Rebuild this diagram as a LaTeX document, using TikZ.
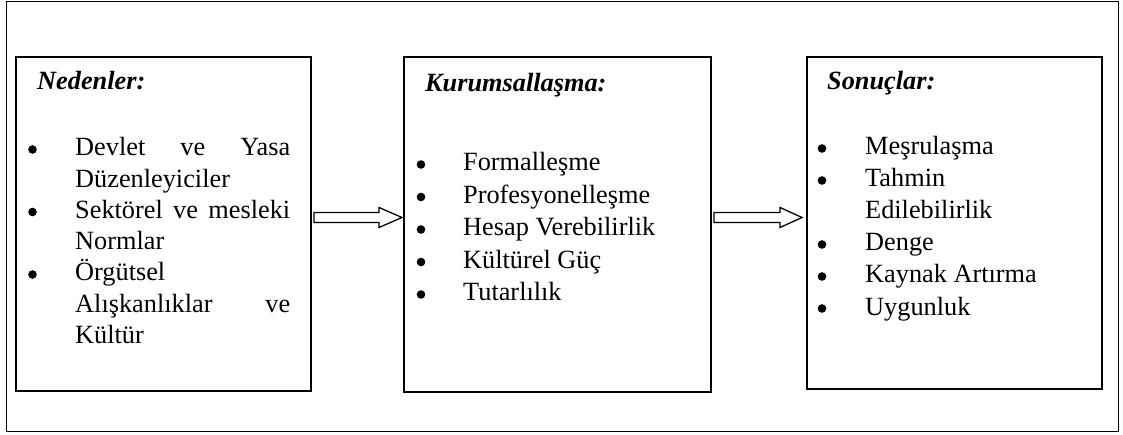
\documentclass[tikz,border=0pt]{standalone}
\usepackage{fontspec}
\setmainfont{Liberation Serif}
\begin{document}
\begin{tikzpicture}[x=1pt,y=-1pt,
  frame/.style={draw=black,line width=1.3pt},
  boxst/.style={draw=black,line width=1.5pt,minimum width=295pt,inner sep=0pt},
  txt/.style={anchor=base west,inner sep=0pt,font=\fontsize{26.3}{32}\selectfont},
  head/.style={txt,font=\fontsize{26.3}{32}\selectfont\bfseries\itshape},
  bul/.style={circle,fill=black,inner sep=0pt,minimum size=8.6pt},
  blockarrow/.style={draw=black,line width=1.3pt,line join=miter}]
\useasboundingbox (0,0) rectangle (1123,435);
\draw[frame] (6.5,1.5) rectangle (1118.5,431.5);
% boxes
\node[boxst,minimum height=334pt] (b1) at (163.5,224) {};
\node[boxst,minimum width=307pt,minimum height=335pt] (b2) at (557.5,224.5) {};
\node[boxst,minimum height=332pt] (b3) at (954.5,223) {};
% headings
\node[head] (h1) at (37,90) {Nedenler:};
\node[head] (h2) at (425,92) {Kurumsallaşma:};
\node[head] (h3) at (827,90) {Sonuçlar:};
% box 1
\node[bul] (p11) at (32.5,149.5) {};
\node[txt] (t11) at (75,156) {\makebox[215pt][s]{Devlet ve Yasa}};
\node[txt] (t12) at (75,187.3) {Düzenleyiciler};
\node[bul] (p12) at (32.5,212) {};
\node[txt] (t13) at (75,218.5) {\makebox[215pt][s]{Sektörel ve mesleki}};
\node[txt] (t14) at (75,249.8) {Normlar};
\node[bul] (p13) at (32.5,274.5) {};
\node[txt] (t15) at (75,281) {Örgütsel};
\node[txt] (t16) at (75,312.3) {\makebox[215pt][s]{Alışkanlıklar ve}};
\node[txt] (t17) at (75,343.5) {Kültür};
% box 2
\node[bul] (p21) at (421,164.5) {};
\node[txt] (t21) at (463,171) {Formalleşme};
\node[bul] (p22) at (421,197) {};
\node[txt] (t22) at (463,203.5) {Profesyonelleşme};
\node[bul] (p23) at (421,229.5) {};
\node[txt] (t23) at (463,236) {Hesap Verebilirlik};
\node[bul] (p24) at (421,262) {};
\node[txt] (t24) at (463,268.5) {Kültürel Güç};
\node[bul] (p25) at (421,294.5) {};
\node[txt] (t25) at (463,301) {Tutarlılık};
% box 3
\node[bul] (p31) at (822,148.5) {};
\node[txt] (t31) at (865,155) {Meşrulaşma};
\node[bul] (p32) at (822,180.5) {};
\node[txt] (t32) at (865,187) {Tahmin};
\node[txt] (t33) at (865,219) {Edilebilirlik};
\node[bul] (p33) at (822,244.5) {};
\node[txt] (t34) at (865,251) {Denge};
\node[bul] (p34) at (822,276.5) {};
\node[txt] (t35) at (865,283) {Kaynak Artırma};
\node[bul] (p35) at (822,308.5) {};
\node[txt] (t36) at (865,315) {Uygunluk};
% block arrows
\draw[blockarrow] (314,212.5) -- (379,212.5) -- (379,207.5) -- (402,217.5) -- (379,227.5) -- (379,222.5) -- (314,222.5) -- cycle;
\draw[blockarrow] (714,212.5) -- (780,212.5) -- (780,207.5) -- (802,217.5) -- (780,227.5) -- (780,222.5) -- (714,222.5) -- cycle;
\end{tikzpicture}
\end{document}
